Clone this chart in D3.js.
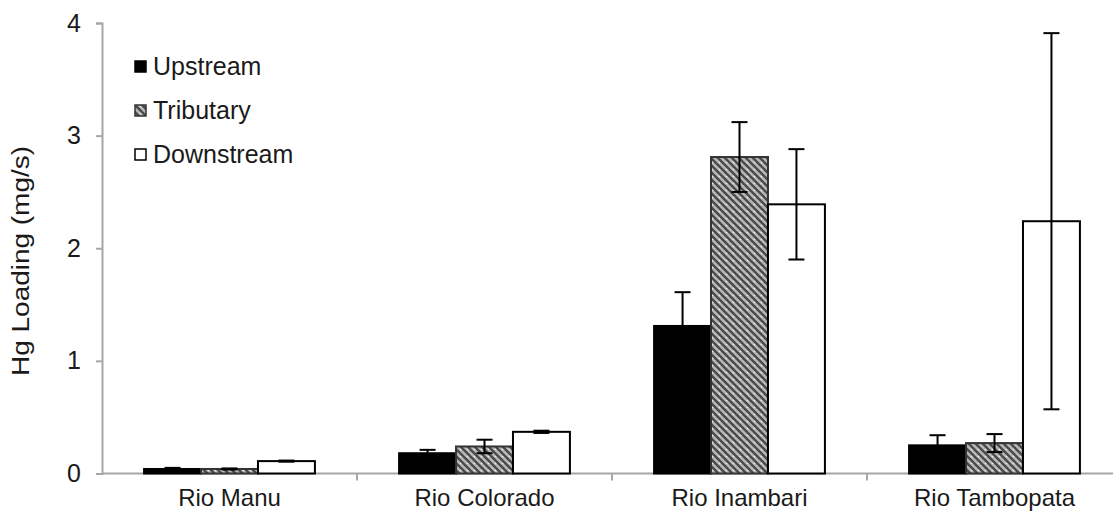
<!DOCTYPE html>
<html>
<head>
<meta charset="utf-8">
<script src="https://cdn.jsdelivr.net/npm/d3@7"></script>
<style>
  body { margin: 0; background: #fff; }
  text { font-family: "Liberation Sans", Arial, sans-serif; fill: #1a1a1a; }
</style>
</head>
<body>
<div id="chart"></div>
<script>
// data
var categories = ["Rio Manu", "Rio Colorado", "Rio Inambari", "Rio Tambopata"];
var seriesNames = ["Upstream", "Tributary", "Downstream"];
var upstream = [0.04, 0.18, 1.31, 0.25];
var upstreamErr = [0.01, 0.03, 0.30, 0.09];
var tributary = [0.04, 0.24, 2.81, 0.27];
var tributaryErr = [0.005, 0.06, 0.31, 0.08];
var downstream = [0.11, 0.37, 2.39, 2.24];
var downstreamErr = [0.005, 0.01, 0.49, 1.67];
var yTicks = [0, 1, 2, 3, 4];

var width = 1113, height = 520;
var margin = {top: 23, left: 102, bottom: 46};

var rows = [];
categories.forEach(function(c, i) {
  rows.push({cat: c, s: "Upstream", v: upstream[i], e: upstreamErr[i]});
  rows.push({cat: c, s: "Tributary", v: tributary[i], e: tributaryErr[i]});
  rows.push({cat: c, s: "Downstream", v: downstream[i], e: downstreamErr[i]});
});

var svg = d3.select("#chart").append("svg")
  .attr("width", width)
  .attr("height", height);

// hatch pattern for tributary
var defs = svg.append("defs");
var pat = defs.append("pattern")
  .attr("id", "hatch")
  .attr("patternUnits", "userSpaceOnUse")
  .attr("width", 7).attr("height", 7);
pat.append("rect").attr("width", 7).attr("height", 7).attr("fill", "#b8b8b8");
pat.append("path")
  .attr("d", "M-1,-1 L8,8 M-1,6 L1,8 M6,-1 L8,1")
  .attr("stroke", "#4a4a4a").attr("stroke-width", 2.4);
pat.append("circle").attr("cx", 5.5).attr("cy", 1.5).attr("r", 0.8).attr("fill", "#eee");

var x0 = d3.scaleBand()
  .domain(categories)
  .range([margin.left, margin.left + 1020])
  .paddingInner(0.33)
  .paddingOuter(0.165);

var x1 = d3.scaleBand()
  .domain(seriesNames)
  .range([0, x0.bandwidth()]);

var y = d3.scaleLinear()
  .domain([0, 4])
  .range([height - margin.bottom - 0.5, margin.top]);

var fills = {"Upstream": "#000", "Tributary": "url(#hatch)", "Downstream": "#fff"};
var strokes = {"Upstream": "#000", "Tributary": "#333", "Downstream": "#000"};

// x axis line + ticks between categories
var axisColor = "#a6a6a6";
svg.append("line")
  .attr("x1", margin.left).attr("x2", width)
  .attr("y1", y(0)).attr("y2", y(0))
  .attr("stroke", axisColor).attr("stroke-width", 2);
var step = x0.step();
d3.range(1, 4).forEach(function(i) {
  var xx = margin.left + i * step;
  svg.append("line")
    .attr("x1", xx).attr("x2", xx)
    .attr("y1", y(0)).attr("y2", y(0) + 7)
    .attr("stroke", axisColor).attr("stroke-width", 2);
});

// y axis
var yAxis = d3.axisLeft(y).tickValues(yTicks).tickSize(6).tickFormat(d3.format("d"));
var gy = svg.append("g")
  .attr("transform", "translate(" + margin.left + ",0)")
  .call(yAxis);
gy.select(".domain").attr("stroke", axisColor).attr("stroke-width", 2);
gy.selectAll(".tick line").attr("stroke", axisColor).attr("stroke-width", 2);
gy.selectAll(".tick text")
  .attr("x", -21)
  .style("font-size", "25px")
  .style("font-family", "Liberation Sans, Arial, sans-serif")
  .attr("fill", "#1a1a1a");

// bars
svg.selectAll("rect.bar")
  .data(rows)
  .join("rect")
  .attr("class", "bar")
  .attr("x", d => x0(d.cat) + x1(d.s))
  .attr("y", d => y(d.v))
  .attr("width", x1.bandwidth())
  .attr("height", d => y(0) - y(d.v))
  .attr("fill", d => fills[d.s])
  .attr("stroke", d => strokes[d.s])
  .attr("stroke-width", 2);

// error bars
var eb = svg.selectAll("g.err")
  .data(rows)
  .join("g")
  .attr("class", "err")
  .attr("transform", d => "translate(" + (x0(d.cat) + x1(d.s) + x1.bandwidth() / 2) + ",0)");
eb.append("line")
  .attr("y1", d => y(d.v + d.e)).attr("y2", d => y(Math.max(0, d.v - d.e)))
  .attr("stroke", "#000").attr("stroke-width", 2);
eb.append("line")
  .attr("x1", -8).attr("x2", 8)
  .attr("y1", d => y(d.v + d.e)).attr("y2", d => y(d.v + d.e))
  .attr("stroke", "#000").attr("stroke-width", 2);
eb.append("line")
  .attr("x1", -8).attr("x2", 8)
  .attr("y1", d => y(Math.max(0, d.v - d.e))).attr("y2", d => y(Math.max(0, d.v - d.e)))
  .attr("stroke", "#000").attr("stroke-width", 2);

// category labels
svg.selectAll("text.cat")
  .data(categories)
  .join("text")
  .attr("class", "cat")
  .attr("x", d => x0(d) + x0.bandwidth() / 2)
  .attr("y", 506)
  .attr("text-anchor", "middle")
  .style("font-size", "24px")
  .text(d => d);

// y title
svg.append("text")
  .attr("transform", "translate(29,261) rotate(-90)")
  .attr("text-anchor", "middle")
  .attr("textLength", 230)
  .attr("lengthAdjust", "spacingAndGlyphs")
  .style("font-size", "23px")
  .text("Hg Loading (mg/s)");

// legend
var leg = svg.selectAll("g.leg")
  .data(seriesNames)
  .join("g")
  .attr("class", "leg")
  .attr("transform", (d, i) => "translate(135," + (61 + i * 44) + ")");
leg.append("rect")
  .attr("width", 11).attr("height", 11)
  .attr("fill", d => fills[d])
  .attr("stroke", d => strokes[d])
  .attr("stroke-width", 1.5);
leg.append("text")
  .attr("x", 18).attr("y", 14)
  .style("font-size", "25px")
  .text(d => d);
</script>
</body>
</html>
